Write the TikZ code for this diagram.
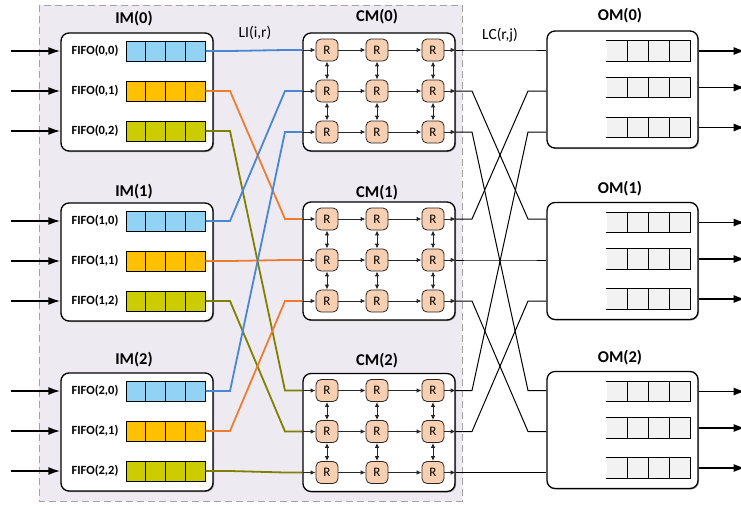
\documentclass[tikz,border=0pt]{standalone}
\usepackage{fontspec}
\setmainfont{Carlito}
\usetikzlibrary{arrows.meta,calc,shadows}

\definecolor{bgpanel}{HTML}{EDEAF2}
\definecolor{panelline}{HTML}{A3A3A3}
\definecolor{fifoblue}{HTML}{92D2F5}
\definecolor{fifoorange}{HTML}{FFC000}
\definecolor{fifoolive}{HTML}{CCCC00}
\definecolor{lineblue}{HTML}{4A86D4}
\definecolor{lineorange}{HTML}{ED7D31}
\definecolor{lineolive}{HTML}{808000}
\definecolor{routerfill}{HTML}{F8CFB0}
\definecolor{bufgray}{HTML}{F2F2F2}

\tikzset{
  panel/.style={draw=panelline, fill=bgpanel, line width=1pt, dash pattern=on 7pt off 4pt},
  module/.style={draw=black, line width=1.3pt, rounded corners=8pt, fill=white,
    minimum width=152pt, minimum height=118pt, inner sep=0pt,
    drop shadow={shadow xshift=1pt, shadow yshift=-1pt, opacity=0.35, fill=black}},
  title/.style={font=\fontsize{16.5}{18}\selectfont\bfseries, inner sep=0pt},
  linklabel/.style={font=\fontsize{15.5}{17}\selectfont, inner sep=0pt},
  fifolabel/.style={font=\fontsize{12.5}{14}\selectfont\bfseries, inner sep=0pt},
  quarters/.style={path picture={
    \foreach \k in {1,2,3}{
      \draw[line width=1pt, black]
        ($(path picture bounding box.south west)!\k/4!(path picture bounding box.south east)$) --
        ($(path picture bounding box.north west)!\k/4!(path picture bounding box.north east)$);}}},
  quad/.style={quarters, minimum width=79pt, minimum height=20pt, inner sep=0pt,
    draw=black, line width=1pt,
    drop shadow={shadow xshift=0.8pt, shadow yshift=-0.8pt, opacity=0.3, fill=black}},
  buffer/.style={quarters, minimum width=84pt, minimum height=20pt, inner sep=0pt, fill=bufgray},
  bufedge/.style={line width=1pt, black},
  router/.style={draw=black!85, line width=0.8pt, fill=routerfill, rounded corners=5pt,
    minimum size=22pt, inner sep=0pt, font=\fontsize{13}{14}\selectfont},
  flow/.style={-{Latex[length=5pt,width=4.5pt]}, line width=1pt, draw=black!85},
  link/.style={{Latex[length=5pt,width=4.5pt]}-{Latex[length=5pt,width=4.5pt]}, line width=1pt, draw=black!85},
  bigarrow/.style={-{Latex[length=12pt,width=8pt]}, line width=1.8pt},
  li/.style={line width=1.8pt},
  lc/.style={line width=1pt, draw=black},
}

\begin{document}
\begin{tikzpicture}[x=1pt,y=-1pt]
\useasboundingbox (0,0) rectangle (741,504);

% shaded panel holding the input and middle stages
\draw[panel] (39,5) rectangle (462,501);

% bend columns of the two link bundles
\coordinate (xa) at (230,0);
\coordinate (xb) at (285,0);
\coordinate (xc) at (472,0);
\coordinate (xd) at (528,0);

% input, middle and output modules
\foreach \mm/\yim/\ycm/\yom in {0/92/92/89.5, 1/262/261/261, 2/432/432.5/430}{
  \node[module] (im\mm) at (137,\yim) {};
  \node[module] (cm\mm) at (379,\ycm) {};
  \node[module, minimum width=151pt, minimum height=117pt] (om\mm) at (622.5,\yom) {};
}

% module titles
\node[title] (tim0) at (134,19) {IM(0)};
\node[title] (tim1) at (134,192) {IM(1)};
\node[title] (tim2) at (134,360) {IM(2)};
\node[title] (tcm0) at (377,17) {CM(0)};
\node[title] (tcm1) at (377,193) {CM(1)};
\node[title] (tcm2) at (377,361) {CM(2)};
\node[title] (tom0) at (620,16) {OM(0)};
\node[title] (tom1) at (620,189) {OM(1)};
\node[title] (tom2) at (620,358) {OM(2)};

% link bundle labels
\node[linklabel] (lli) at (255,33) {LI(i,r)};
\node[linklabel] (llc) at (500,35) {LC(r,j)};

% input FIFOs with their incoming arrows
\foreach \ii in {0,1,2}{
  \foreach \jj/\dy/\col in {0/-41/fifoblue, 1/-1/fifoorange, 2/39/fifoolive}{
    \path (im\ii.center) ++(28.5,\dy) node[quad, fill=\col] (fifo\ii\jj) {};
    \path (im\ii.center) ++(-42,\dy) node[fifolabel] (lab\ii\jj) {FIFO(\ii,\jj)};
    \path (im\ii.center) ++(-126,\dy) coordinate (src\ii\jj);
    \draw[bigarrow] (src\ii\jj) -- (im\ii.west |- fifo\ii\jj);
  }
}

% routers of the middle modules and their internal links
\foreach \mm in {0,1,2}{
  \foreach \rr/\dy in {0/-42, 1/-1, 2/40}{
    \foreach \cc/\dx in {0/-52, 1/-2, 2/54}{
      \path (cm\mm.center) ++(\dx,\dy) node[router] (R\mm\rr\cc) {R};
    }
    \draw[flow] (cm\mm.west |- R\mm\rr0) -- (R\mm\rr0);
    \draw[flow] (R\mm\rr0) -- (R\mm\rr1);
    \draw[flow] (R\mm\rr1) -- (R\mm\rr2);
    \draw[flow] (R\mm\rr2) -- (cm\mm.east |- R\mm\rr2);
  }
  \foreach \cc in {0,1,2}{
    \draw[link] (R\mm0\cc) -- (R\mm1\cc);
    \draw[link] (R\mm1\cc) -- (R\mm2\cc);
  }
}

% LI links: FIFO(i,j) of IM(i) to row i of CM(j)
\foreach \ii in {0,1,2}{
  \foreach \jj/\lcol in {0/lineblue, 1/lineorange, 2/lineolive}{
    \draw[li, draw=\lcol] (fifo\ii\jj.east) -- (fifo\ii\jj.east -| xa)
      -- (R\jj\ii0 -| xb) -- (cm\jj.west |- R\jj\ii0);
  }
}

% LC links: row j of CM(r) to input r of OM(j)
\foreach \rr in {0,1,2}{
  \foreach \jj in {0,1,2}{
    \draw[lc] (cm\rr.east |- R\rr\jj2) -- (R\rr\jj2 -| xc)
      -- (R\jj\rr2 -| xd) -- (om\jj.west |- R\jj\rr2);
  }
}

% output buffers with their outgoing arrows
\foreach \jj in {0,1,2}{
  \foreach \kk/\dy in {0/-38.5, 1/-2, 2/38}{
    \path (om\jj.center) ++(26,\dy) node[buffer] (buf\jj\kk) {};
    \draw[bufedge] (buf\jj\kk.north west) -- (buf\jj\kk.north east)
      -- (buf\jj\kk.south east) -- (buf\jj\kk.south west);
    \path (om\jj.east |- buf\jj\kk) ++(47,0) coordinate (dst\jj\kk);
    \draw[bigarrow] (om\jj.east |- buf\jj\kk) -- (dst\jj\kk);
  }
}
\end{tikzpicture}
\end{document}
